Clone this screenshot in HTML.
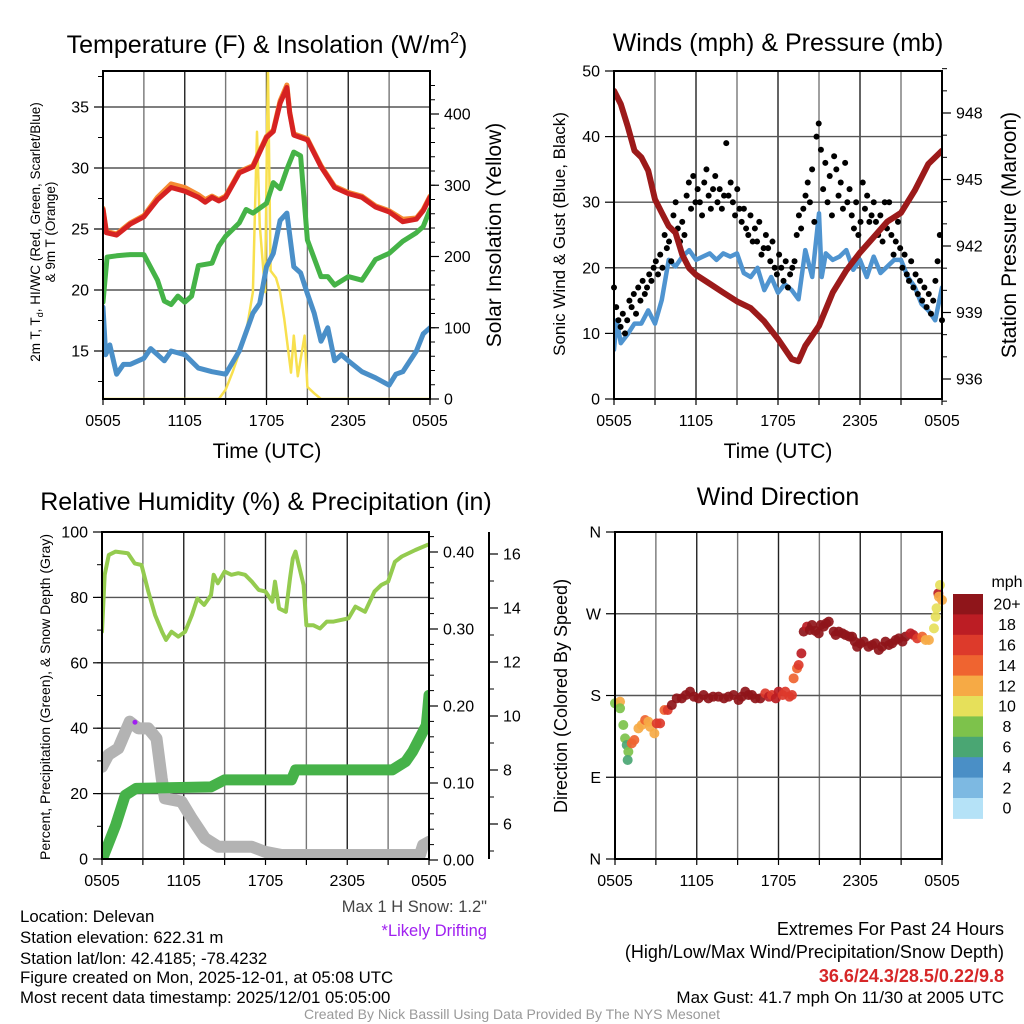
<!DOCTYPE html>
<html><head><meta charset="utf-8">
<style>
html,body{margin:0;padding:0;background:#fff;}
svg{display:block;font-family:"Liberation Sans",Arial,sans-serif;}
</style></head>
<body>
<svg id="chart" width="1024" height="1024" viewBox="0 0 1024 1024" xmlns="http://www.w3.org/2000/svg">
<defs>
<clipPath id="c1"><rect x="103" y="71" width="327" height="328"/></clipPath>
<clipPath id="c2"><rect x="614" y="71" width="328" height="328"/></clipPath>
<clipPath id="c3"><rect x="102" y="532" width="327" height="327"/></clipPath>
</defs>
<text x="267" y="53" font-size="25" text-anchor="middle">Temperature (F) &amp; Insolation (W/m<tspan font-size="16" dy="-10">2</tspan><tspan dy="10">)</tspan></text>
<text x="778" y="51" font-size="25" text-anchor="middle">Winds (mph) &amp; Pressure (mb)</text>
<text x="266" y="510" font-size="25" text-anchor="middle">Relative Humidity (%) &amp; Precipitation (in)</text>
<text x="778" y="505" font-size="25" text-anchor="middle">Wind Direction</text>

<text font-size="13.5" text-anchor="middle" transform="translate(40,232) rotate(-90)">2m T, T<tspan font-size="9" dy="3">d</tspan><tspan dy="-3">, HI/WC (Red, Green, Scarlet/Blue)</tspan></text>
<text font-size="13.5" text-anchor="middle" transform="translate(55,232) rotate(-90)">&amp; 9m T (Orange)</text>
<text font-size="21" text-anchor="middle" transform="translate(501,235) rotate(-90)">Solar Insolation (Yellow)</text>
<text font-size="17" text-anchor="middle" transform="translate(565,234) rotate(-90)">Sonic Wind &amp; Gust (Blue, Black)</text>
<text font-size="21" text-anchor="middle" transform="translate(1016,235) rotate(-90)">Station Pressure (Maroon)</text>
<text font-size="14" text-anchor="middle" transform="translate(50,697) rotate(-90)">Percent, Precipitation (Green), &amp; Snow Depth (Gray)</text>
<text font-size="18" text-anchor="middle" transform="translate(567,696) rotate(-90)">Direction (Colored By Speed)</text>
<text x="267" y="458" font-size="21" text-anchor="middle">Time (UTC)</text>
<text x="778" y="458" font-size="21" text-anchor="middle">Time (UTC)</text>

<text x="487" y="912" font-size="16.5" fill="#444" text-anchor="end">Max 1 H Snow: 1.2"</text>
<text x="487" y="936" font-size="16.5" fill="#a020f0" text-anchor="end">*Likely Drifting</text>
<g font-size="16.8">
<text x="20" y="922">Location: Delevan</text>
<text x="20" y="943">Station elevation: 622.31 m</text>
<text x="20" y="964">Station lat/lon: 42.4185; -78.4232</text>
<text x="20" y="983">Figure created on Mon, 2025-12-01, at 05:08 UTC</text>
<text x="20" y="1003">Most recent data timestamp: 2025/12/01 05:05:00</text>
</g>
<g font-size="18" text-anchor="end">
<text x="1004" y="935">Extremes For Past 24 Hours</text>
<text x="1004" y="958">(High/Low/Max Wind/Precipitation/Snow Depth)</text>
<text x="1004" y="982" font-weight="bold" fill="#d62728">36.6/24.3/28.5/0.22/9.8</text>
<text x="1004" y="1003" font-size="17">Max Gust: 41.7 mph On 11/30 at 2005 UTC</text>
</g>
<text x="512" y="1019" font-size="14" fill="#999" text-anchor="middle">Created By Nick Bassill Using Data Provided By The NYS Mesonet</text>
<g id="marks"></g>
</svg>
<script>
// ---- Panel 1 data ----
const tempT = [0,0.25,1,2,3,4,5,6,7,7.5,8,8.5,9,10,11,12,12.5,13,13.5,13.7,14,15,16,17,18,19,20,21,22,23,23.5,24];
const tempV = [26.6,24.7,24.5,25.4,26.0,27.4,28.4,28.1,27.6,27.2,27.6,27.3,27.6,29.6,30.1,32.5,33.0,35.3,36.6,34.5,32.7,32.3,30.1,28.4,27.9,27.6,26.8,26.4,25.6,25.8,26.5,27.6];
const temp9mV = [26.7,24.8,24.6,25.5,26.1,27.6,28.7,28.4,27.8,27.4,27.7,27.4,27.7,29.7,30.2,32.6,33.1,35.5,36.8,34.6,32.8,32.4,30.2,28.5,28.0,27.7,26.9,26.5,25.8,25.9,26.6,27.7];
const dewT = [0,0.3,1,2,3,4,4.5,5,5.5,6,6.5,7,8,8.5,9,10,10.5,11,12,12.5,13,13.5,14,14.5,15,16,16.5,17,18,19,20,21,22,23,23.5,24];
const dewV = [19.0,22.7,22.8,22.9,22.9,20.8,19.1,18.8,19.5,19.0,19.5,22.0,22.2,23.6,24.4,25.5,26.6,26.3,27.1,28.8,28.3,29.9,31.3,31.0,24.1,21.1,21.1,20.4,21.1,20.8,22.5,23.0,24.0,24.7,25.2,26.6];
const wcT = [0,0.2,0.5,1,1.5,2,3,3.5,4,4.5,5,6,7,8,9,10,11,11.5,12,12.5,13,13.5,14,14.5,15,15.5,16,16.5,17,17.5,18,19,20,21,21.5,22,23,23.5,24];
const wcV = [18.6,14.7,15.5,13.1,13.9,13.9,14.4,15.2,14.7,14.2,15.0,14.7,13.6,13.3,13.1,15.0,18.1,18.9,21.9,23.0,25.7,26.3,21.9,21.4,19.7,18.1,15.8,16.9,14.2,14.7,14.2,13.3,12.8,12.2,13.1,13.3,15.0,16.4,16.9];
const solarT = [0,8.5,9,9.5,10,10.5,11,11.3,11.5,11.9,12.1,12.3,12.7,13,13.3,13.8,14,14.3,14.8,15,15.5,16,24];
const solarV = [0,0,13,37,65,93,150,375,245,150,470,180,170,150,113,37,89,32,89,17,8,0,0];
const tempTicks = [15,20,25,30,35];
const solarTicks = [0,100,200,300,400];
// ---- Panel 2 data ----
const presT = [0,0.5,1,1.5,2,2.5,3,3.5,4,4.5,5,5.5,6,7,8,9,10,11,12,13,13.5,14,15,16,17,18,19,20,21,22,23,24];
const presV = [949.0,948.4,947.4,946.3,946.0,945.4,944.1,943.5,942.9,942.6,941.6,941.0,940.7,940.3,939.9,939.5,939.2,938.6,937.8,936.9,936.8,937.5,938.4,939.9,940.9,941.7,942.4,943.1,943.5,944.5,945.7,946.3];
const windT = [0,0.2,0.5,1,1.5,2,2.5,3,3.5,4,4.5,5,5.5,6,6.5,7,7.5,8,8.5,9,9.5,10,10.5,11,11.5,12,12.5,13,13.5,14,14.5,15,15.2,15.5,16,16.5,17,17.5,18,18.5,19,19.5,20,20.5,21,21.5,22,22.5,23,23.5,24];
const windV = [7.5,12,8.5,9.9,11.5,11.5,13.5,11.5,15.1,21.2,20.2,21.7,22.7,21.2,21.7,22.2,21.2,22.2,21.7,22.2,19.2,18.6,20,16.6,18.6,16.2,17.5,16.6,15.2,22.7,18.6,28.3,18.6,22.2,21.2,21.7,22.7,19.7,21.2,18.6,21.7,19.2,20.2,21.2,21.2,18.6,17.1,14.5,13.5,12,17];
const gustV = [17,14,12,11,13,10,12,15,14,16,13,17,15,18,16,17,19,18,20,21,19,22,20,25,23,24,21,28,30,26,24,27,25,31,33,29,34,30,32,30,28,33,35,31,29,32,34,30,32,29,31,39,31,33,30,28,32,29,27,29,26,25,28,24,26,24,27,22,23,25,23,21,24,20,19,22,20,18,21,17,19,20,21,25,28,26,29,31,33,30,35,27,40,42,38,32,36,30,34,28,37,35,31,33,29,36,30,32,28,26,30,25,27,33,29,31,27,28,30,27,25,28,24,30,26,30,25,22,24,27,23,20,22,19,18,21,17,19,16,18,15,17,14,16,13,15,18,21,25,12];
const windTicks = [0,10,20,30,40,50];
const presTicks = [936,939,942,945,948];
// ---- Panel 3 data ----
const rhT = [0,0.2,0.5,1.0,1.9,2.4,2.9,3.4,3.9,4.4,4.7,5.1,5.6,6.1,6.6,7.0,7.5,8.0,8.2,8.5,9.0,9.5,10.0,10.5,11.0,11.5,12.0,12.5,12.7,13.0,13.5,13.8,14.0,14.2,14.8,15.0,15.5,16.0,16.5,17.0,18.1,18.6,19.3,20.0,20.5,21.0,21.5,22.0,23.0,23.9];
const rhV = [69.5,86.9,93.0,94.0,93.5,90.4,89.9,81.8,74.6,69.5,67.0,69.5,68.0,69.5,74.6,79.7,77.7,80.7,86.9,84.3,87.9,86.9,87.4,86.9,84.8,82.3,81.8,78.7,84.8,76.6,75.6,85.8,91.9,94.0,83.8,71.5,71.5,70.5,72.6,72.6,73.6,77.2,75.6,81.8,83.8,84.8,90.9,92.5,94.5,96.1];
const precT = [0,1.0,1.7,2.5,8.0,9.0,13.9,14.2,21.3,22.3,22.8,23.3,23.8,23.9,24];
const precV = [0,0.045,0.084,0.093,0.095,0.104,0.104,0.117,0.117,0.128,0.141,0.158,0.175,0.193,0.214];
const snowT = [0,0.46,1.2,2.03,2.67,3.4,4.0,4.38,4.62,5.84,6.58,7.56,8.53,10.98,11.96,13.18,23.33,23.57,24];
const snowV = [8.12,8.56,8.80,9.79,9.54,9.54,9.17,7.69,6.95,6.83,6.21,5.47,5.16,5.16,4.97,4.85,4.85,5.22,5.34];
const driftT = [2.42];
const driftV = [9.77];
const rhTicks = [0,20,40,60,80,100];
const precTicks = [0,0.1,0.2,0.3,0.4];
const precLabels = ["0.00","0.10","0.20","0.30","0.40"];
const snowTicks = [6,8,10,12,14,16];
// ---- Panel 4 data ----
const dirT = [0,0.37,0.37,0.61,0.74,0.86,0.98,0.93,1.23,1.42,1.72,1.96,2.21,2.45,2.57,2.89,3.06,3.31,3.63,3.87,4.17,4.53,4.9,5.2,5.51,5.8,6.13,6.5,6.86,7.2,7.6,8.0,8.33,8.7,9.07,9.3,9.56,9.8,10.05,10.3,10.66,11.03,11.3,11.52,11.8,12.01,12.3,12.5,12.8,12.99,13.11,13.36,13.48,13.68,13.85,14.09,14.3,14.46,14.7,14.95,15.1,15.32,15.5,15.69,16.05,16.2,16.42,16.7,16.91,17.2,17.4,17.6,17.77,18.0,18.26,18.6,18.87,19.1,19.36,19.6,19.85,20.1,20.34,20.6,20.83,21.1,21.32,21.69,21.9,22.18,22.55,22.8,23.04,23.41,23.53,23.6,23.73,23.85,23.77,24];
const dirV = [171.4,173.2,165.9,147.5,132.8,125.5,118.1,109.0,127.3,131.0,143.8,147.5,153.0,151.2,145.7,138.3,149.3,149.3,164.0,164.0,169.5,176.9,176.9,180.5,184.2,178.7,176.9,180.5,176.9,178.7,178.7,176.9,178.7,180.5,175.0,178.7,184.2,180.5,180.5,176.9,176.9,182.3,178.7,180.5,176.9,184.2,180.5,184.2,178.7,180.5,198.9,209.9,213.6,226.4,250.3,255.8,252.1,257.6,251.2,248.4,257.6,255.8,259.4,261.3,250.3,246.6,250.3,248.4,246.6,244.8,244.8,239.3,233.7,237.4,239.3,233.7,235.6,237.4,230.1,233.7,239.3,235.6,237.4,241.1,242.9,239.3,244.8,248.4,246.6,242.9,244.8,241.1,241.1,253.9,266.8,276.0,292.5,301.6,288.8,285.1];
const dirSpd = [8,12,8,8,8,7,8,7,14,14,12,12,14,13,13,12,17,16,14,17,20,20,20,20,20,20,20,20,20,20,20,20,20,20,20,20,20,20,20,20,20,17,18,16,19,18,17,17,16,17,14,15,17,18,20,19,20,20,20,20,20,20,20,20,20,20,20,20,20,20,20,20,20,20,20,20,20,20,20,20,20,20,20,20,20,20,20,18,18,17,14,13,12,10,10,10,18,10,12,12];
const dirTicks = [0,90,180,270,360];
const dirLabels = ["N","E","S","W","N"];
const cbLevels = ["0","2","4","6","8","10","12","14","16","18","20+"];
const cbColors = ["#b5e2f7","#7db9e2","#4a8fc6","#4aa673","#7dc24b","#e6e05a","#f6aa45","#ef6430","#dd3a2b","#bc1d24","#8f151a"];
const timeLabels = ["0505","1105","1705","2305","0505"];

const NS="http://www.w3.org/2000/svg";
const root=document.getElementById('marks');
function el(tag,attrs,parent){const e=document.createElementNS(NS,tag);for(const k in attrs)e.setAttribute(k,attrs[k]);(parent||root).appendChild(e);return e;}
function lin(d0,d1,r0,r1){return v=>r0+(v-d0)*(r1-r0)/(d1-d0);}

const panels=[
 {id:'temp',x0:103,x1:430,y0:71,y1:399,clip:'c1'},
 {id:'wind',x0:614,x1:942,y0:71,y1:399,clip:'c2'},
 {id:'rh',x0:102,x1:429,y0:532,y1:859,clip:'c3'},
 {id:'dir',x0:615,x1:942,y0:532,y1:859,clip:null}
];
panels.forEach(p=>{p.x=lin(0,24,p.x0,p.x1);});
const yTemp=lin(15,35,351,107), ySolar=lin(0,400,399,114);
const yWind=lin(0,50,399,71), yPres=lin(936,948,379,113);
const yRH=lin(0,100,859,532), yPrec=lin(0,0.4,860,552), ySnow=lin(6,16,824,554);
const yDir=lin(0,360,859,532);

function frame(p,hgrid){
  const g=el('g',{});
  
  
  for(let h=3;h<24;h+=3){
    const l=el('line',{x1:p.x(h),x2:p.x(h),y1:p.y0,y2:p.y1,stroke:h%6===0?'#222':'#777','stroke-width':1.4},g);
    
    
  }
  hgrid.forEach(y=>{
    const l=el('line',{x1:p.x0,x2:p.x1,y1:y,y2:y,stroke:'#555','stroke-width':1.4},g);
    
    
  });
  for(let h=0;h<=24;h+=3){
    const t=el('line',{x1:p.x(h),x2:p.x(h),y1:p.y1,y2:p.y1+6,stroke:'#000','stroke-width':1.2},g);
    
    
  }
  timeLabels.forEach((s,i)=>{
    const t=el('text',{x:p.x(i*6),y:p.y1+27,'font-size':16,'text-anchor':'middle'},g);
    t.textContent=s;
    
    
  });
}
function frameBox(p){
  const r=el('rect',{x:p.x0,y:p.y0,width:p.x1-p.x0,height:p.y1-p.y0,fill:'none',stroke:'#000','stroke-width':2});
  
  
}
function yAxis(ticks,labels,sc,xAxis,side,minor,name){
  const g=el('g',{});
  
  
  const dir=side==='left'?-1:1;
  minor.forEach(v=>{
    const t=el('line',{x1:xAxis,x2:xAxis+dir*5,y1:sc(v),y2:sc(v),stroke:'#000','stroke-width':1},g);
    
    
  });
  ticks.forEach((v,i)=>{
    const t=el('line',{x1:xAxis,x2:xAxis+dir*9,y1:sc(v),y2:sc(v),stroke:'#000','stroke-width':1.2},g);
    
    
    const tx=el('text',{x:xAxis+dir*14,y:sc(v)+5.5,'font-size':16,'text-anchor':side==='left'?'end':'start'},g);
    tx.textContent=labels?labels[i]:String(v);
    
    
  });
}
function line(p,T,V,sc,color,w,name,extra){
  const pts=T.map((t,i)=>p.x(t).toFixed(1)+','+sc(V[i]).toFixed(1)).join(' ');
  const a={points:pts,fill:'none',stroke:color,'stroke-width':w,'stroke-linejoin':'round','stroke-linecap':'round'};
  if(p.clip)a['clip-path']='url(#'+p.clip+')';
  const l=el('polyline',Object.assign(a,extra||{}));
  
  
}
function range(a,b,s){const r=[];for(let v=a;v<=b+1e-9;v+=s)r.push(+v.toFixed(3));return r;}

// Panel 1
const p1=panels[0];
frame(p1,tempTicks.map(yTemp));
line(p1,solarT,solarV,ySolar,'#f8e04e',2.5,'solar-insolation-line');
line(p1,wcT,wcV,yTemp,'#4a8fc8',5,'wind-chill-line');
line(p1,dewT,dewV,yTemp,'#45b347',5,'dewpoint-line');
line(p1,tempT,temp9mV,yTemp,'#f58a33',5,'9m-temperature-line');
line(p1,tempT,tempV,yTemp,'#d62222',5,'2m-temperature-line');
frameBox(p1);
yAxis(tempTicks,null,yTemp,p1.x0,'left',range(12.5,37.5,2.5),'temperature-y-axis');
yAxis(solarTicks,null,ySolar,p1.x1,'right',range(0,450,20),'solar-y-axis');

// Panel 2
const p2=panels[1];
frame(p2,[10,20,30,40].map(yWind));
line(p2,windT,windV,yWind,'#4f94d0',4.5,'sonic-wind-line');
gustV.forEach((v,i)=>{
  const c=el('circle',{cx:p2.x(i*24/(gustV.length-1)),cy:yWind(v),r:3,fill:'#000'});
  
  
});
line(p2,presT,presV,yPres,'#9c1a1a',6,'pressure-line');
frameBox(p2);
yAxis(windTicks,null,yWind,p2.x0,'left',[],'wind-y-axis');
yAxis(presTicks,null,yPres,p2.x1,'right',range(935,950,1),'pressure-y-axis');

// Panel 3
const p3=panels[2];
frame(p3,[20,40,60,80].map(yRH));
line(p3,rhT,rhV,yRH,'#94cb4f',4,'relative-humidity-line');
line(p3,snowT,snowV,ySnow,'#b3b3b3',12,'snow-depth-line');
driftT.forEach((t,i)=>{
  const c=el('circle',{cx:p3.x(t),cy:ySnow(driftV[i]),r:2.5,fill:'#a020f0'});
  
  
});
line(p3,precT,precV,yPrec,'#46b249',11,'precipitation-line');
frameBox(p3);
yAxis(rhTicks,null,yRH,p3.x0,'left',range(0,100,10),'humidity-y-axis');
yAxis(precTicks,precLabels,yPrec,p3.x1,'right',range(0,0.42,0.02),'precipitation-y-axis');
{
  const ax=el('line',{x1:489,x2:489,y1:532,y2:859,stroke:'#000','stroke-width':2});
  
  
  yAxis(snowTicks,null,ySnow,489,'right',range(5,16.6,1),'snow-depth-y-axis');
}

// Panel 4
const p4=panels[3];
frame(p4,[90,180,270].map(yDir));
function spdColor(s){let i=Math.floor(s/2);if(i>10)i=10;if(i<0)i=0;return cbColors[i];}
dirT.forEach((t,i)=>{
  const c=el('circle',{cx:p4.x(t),cy:yDir(dirV[i]),r:5,fill:spdColor(dirSpd[i]),'fill-opacity':0.92});
  
  
});
frameBox(p4);
yAxis(dirTicks,dirLabels,yDir,p4.x0,'left',[],'direction-y-axis');
// colorbar
{
  const g=el('g',{});
  
  
  const top=594,bh=20.4;
  const n=cbLevels.length;
  for(let k=0;k<n;k++){
    const idx=n-1-k;
    const r=el('rect',{x:953,y:top+k*bh,width:30,height:bh+0.5,fill:cbColors[idx]},g);
    
    
    const t=el('text',{x:1007,y:top+k*bh+bh/2+5.5,'font-size':16,'text-anchor':'middle'},g);
    t.textContent=cbLevels[idx];
    
    
  }
  const u=el('text',{x:1007,y:587,'font-size':16,'text-anchor':'middle'},g);
  u.textContent='mph';
  
  
}
</script>
</body></html>
